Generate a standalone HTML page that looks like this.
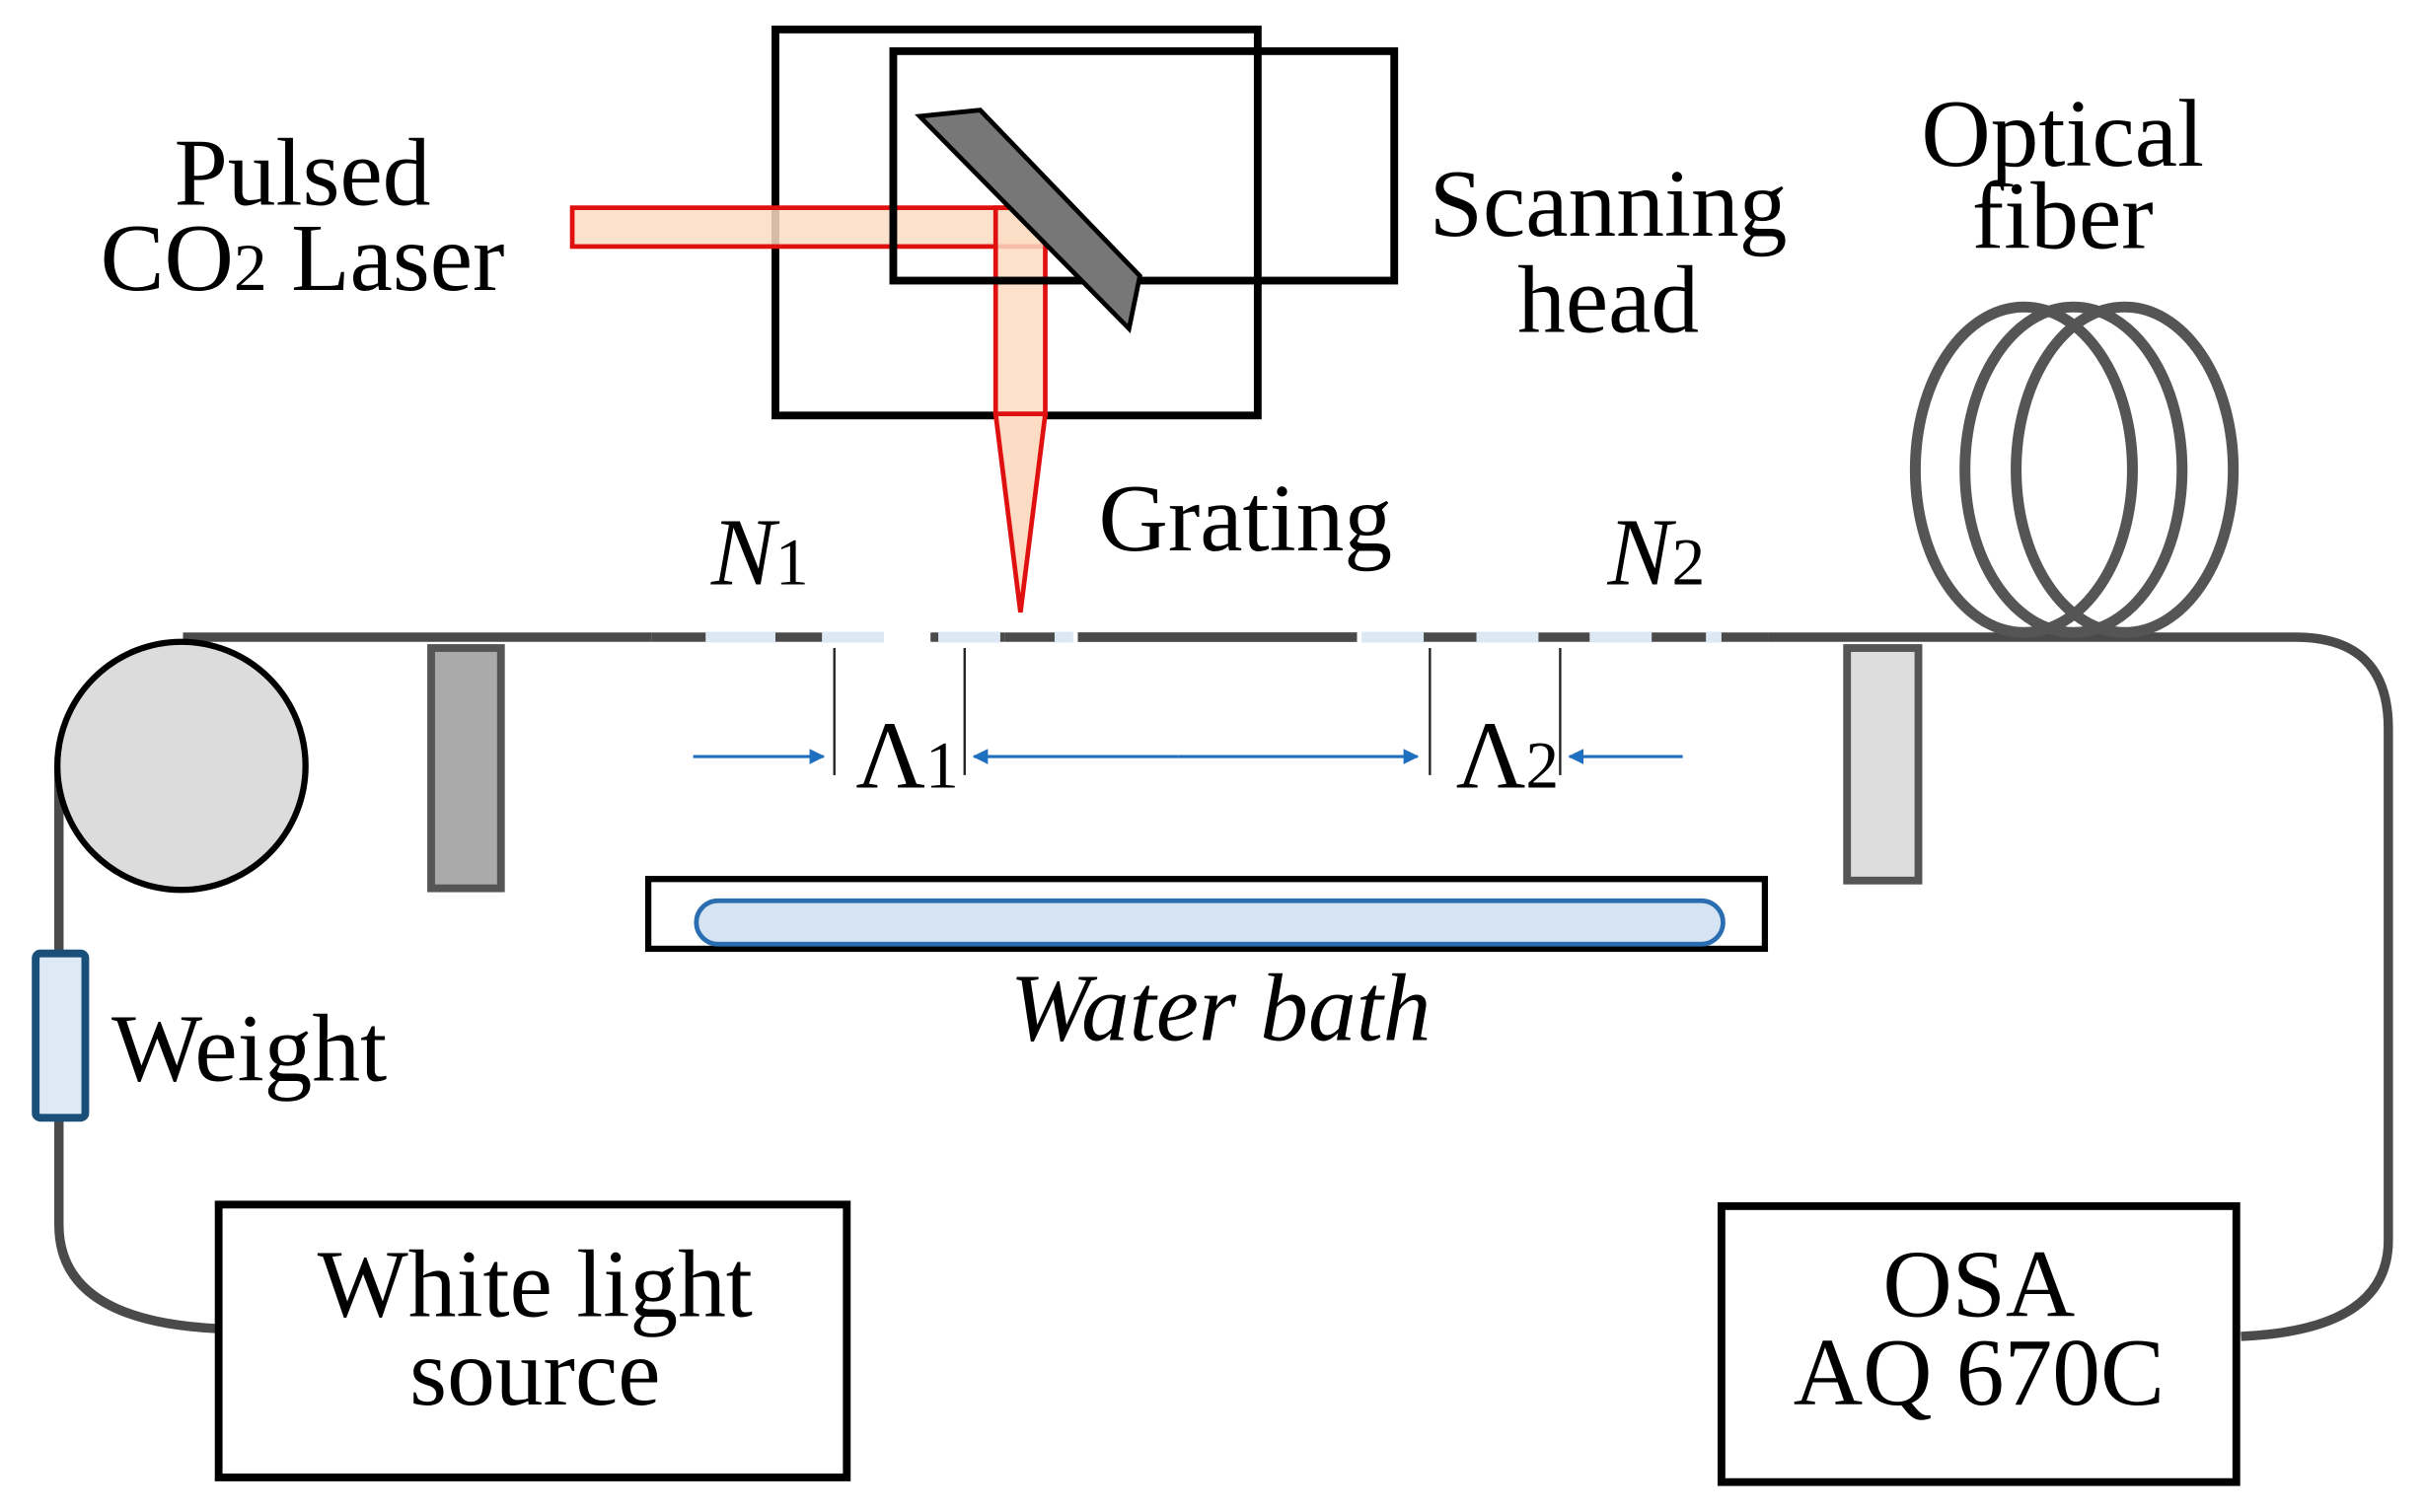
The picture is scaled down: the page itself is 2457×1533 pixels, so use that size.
<!DOCTYPE html>
<html><head><meta charset="utf-8"><style>
html,body{margin:0;padding:0;background:#fff}
svg{display:block}
text{font-family:"Liberation Serif",serif;fill:#000}
</style></head><body>
<svg width="2457" height="1533" viewBox="0 0 1563 975.3" preserveAspectRatio="none" xmlns="http://www.w3.org/2000/svg">
<defs>
<marker id="ah" markerWidth="10" markerHeight="10" refX="9" refY="5" orient="auto" markerUnits="userSpaceOnUse" viewBox="0 0 10 10">
<path d="M0,0 L10,5 L0,10 z" fill="#1f6fc0"/></marker>
</defs>
<path d="M118,411 L1480,411 Q1540,411 1540,470 L1540,800 Q1540,858 1445,862" fill="none" stroke="#4a4a4a" stroke-width="6"/>
<path d="M38,494 L38,615 M38,722 L38,790 Q38,852 140,857" fill="none" stroke="#4a4a4a" stroke-width="6"/>
<g stroke="#ffffff" stroke-width="7">
<line x1="420" y1="411" x2="600" y2="411"/>
<line x1="648" y1="411" x2="695" y2="411"/>
<line x1="875" y1="411" x2="1140" y2="411"/>
</g>
<g stroke="#dce8f4" stroke-width="7">
<line x1="455" y1="411" x2="500" y2="411"/>
<line x1="530" y1="411" x2="570" y2="411"/>
<line x1="605" y1="411" x2="645" y2="411"/>
<line x1="680" y1="411" x2="692" y2="411"/>
<line x1="878" y1="411" x2="918" y2="411"/>
<line x1="952" y1="411" x2="992" y2="411"/>
<line x1="1025" y1="411" x2="1065" y2="411"/>
<line x1="1100" y1="411" x2="1110" y2="411"/>
</g>
<g stroke="#4a4a4a" stroke-width="6">
<line x1="420" y1="411" x2="455" y2="411"/>
<line x1="500" y1="411" x2="530" y2="411"/>
<line x1="648" y1="411" x2="680" y2="411"/>
<line x1="695" y1="411" x2="875" y2="411"/>
<line x1="918" y1="411" x2="952" y2="411"/>
<line x1="992" y1="411" x2="1025" y2="411"/>
<line x1="1065" y1="411" x2="1100" y2="411"/>
<line x1="1110" y1="411" x2="1140" y2="411"/>
</g>
<g fill="none" stroke="#555" stroke-width="7">
<ellipse cx="1305" cy="303" rx="70" ry="105"/>
<ellipse cx="1337" cy="303" rx="70" ry="105"/>
<ellipse cx="1370" cy="303" rx="70" ry="105"/>
</g>
<circle cx="117" cy="494" r="80" fill="#dcdcdc" stroke="#000" stroke-width="4"/>
<rect x="23" y="615" width="32" height="106" rx="3" fill="#dde9f5" stroke="#1a4f7a" stroke-width="5"/>
<rect x="278" y="418" width="45" height="155" fill="#aaaaaa" stroke="#555" stroke-width="5"/>
<rect x="1191" y="418" width="46" height="150" fill="#dddddd" stroke="#555" stroke-width="5"/>
<rect x="500" y="19" width="311" height="249" fill="none" stroke="#000" stroke-width="5"/>
<rect x="369" y="134" width="303" height="25" fill="#fcdcc4" fill-opacity="0.85" stroke="#e01010" stroke-width="3"/>
<rect x="642" y="134" width="32" height="133" fill="#fcdcc4" fill-opacity="0.85" stroke="#e01010" stroke-width="3"/>
<polygon points="642,267 674,267 658,395" fill="#fcdcc4" stroke="#e01010" stroke-width="3"/>
<rect x="576" y="33" width="323" height="148" fill="none" stroke="#000" stroke-width="5"/>
<polygon points="593,75 632,71 735,178 728,212" fill="#777" stroke="#000" stroke-width="3"/>
<g stroke="#222" stroke-width="1.5">
<line x1="538" y1="418" x2="538" y2="500"/>
<line x1="622" y1="418" x2="622" y2="500"/>
<line x1="922" y1="418" x2="922" y2="500"/>
<line x1="1006" y1="418" x2="1006" y2="500"/>
</g>
<g stroke="#1f6fc0" stroke-width="2" fill="none">
<line x1="447" y1="488" x2="531" y2="488" marker-end="url(#ah)"/>
<line x1="760" y1="488" x2="628" y2="488" marker-end="url(#ah)"/>
<line x1="760" y1="488" x2="914" y2="488" marker-end="url(#ah)"/>
<line x1="1085" y1="488" x2="1012" y2="488" marker-end="url(#ah)"/>
</g>
<rect x="418" y="567" width="720" height="45" fill="none" stroke="#000" stroke-width="4"/>
<rect x="449" y="581" width="662" height="28" rx="14" fill="#d5e3f3" stroke="#2a6db0" stroke-width="3"/>
<rect x="141" y="777" width="405" height="176" fill="none" stroke="#000" stroke-width="5"/>
<rect x="1110" y="778" width="332" height="178" fill="none" stroke="#000" stroke-width="5"/>
<g font-size="62" text-anchor="middle">
<text x="195" y="132">Pulsed</text>
<text x="195" y="187">CO<tspan font-size="43">2</tspan> Laser</text>
<text x="1037" y="152">Scanning</text>
<text x="1037" y="214">head</text>
<text x="1330" y="107">Optical</text>
<text x="1330" y="160">fiber</text>
<text x="803" y="355">Grating</text>
<text x="490" y="377" font-style="italic">N<tspan font-style="normal" font-size="43">1</tspan></text>
<text x="1068" y="377" font-style="italic">N<tspan font-style="normal" font-size="43">2</tspan></text>
<text x="585" y="508">Λ<tspan font-size="43">1</tspan></text>
<text x="972" y="508">Λ<tspan font-size="43">2</tspan></text>
<text x="787" y="671" font-style="italic">Water bath</text>
<text x="345" y="849">White light</text>
<text x="345" y="906">source</text>
<text x="1276" y="849">OSA</text>
<text x="1276" y="906">AQ 670C</text>
</g>
<text x="72" y="697" font-size="62">Weight</text>
</svg>
</body></html>
